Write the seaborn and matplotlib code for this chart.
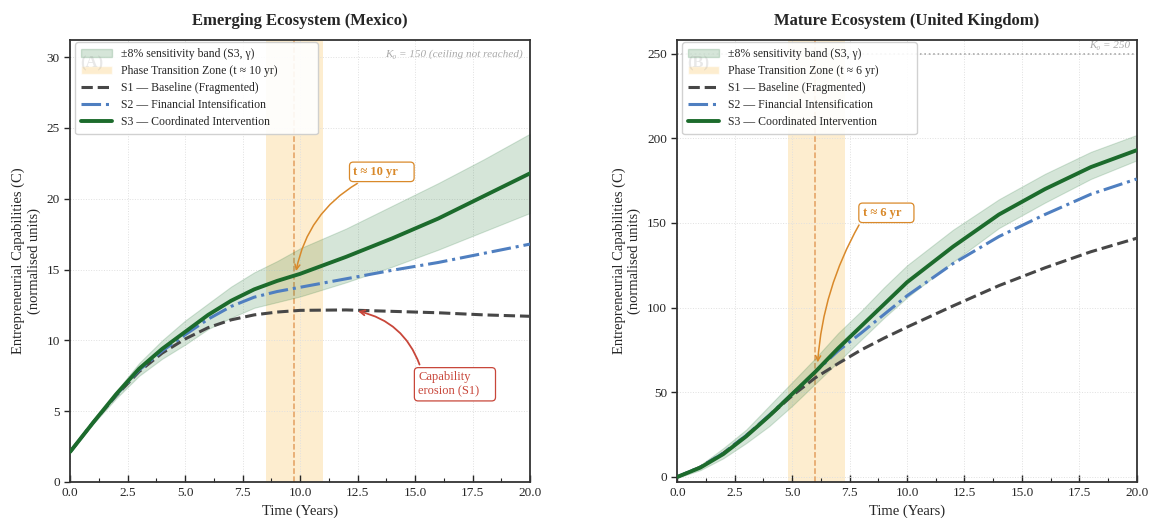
import numpy as np
import pandas as pd
import matplotlib
matplotlib.use("Agg")
import matplotlib.pyplot as plt
from matplotlib.patches import Patch
from matplotlib.lines import Line2D
import seaborn as sns

# time grid shared by both panels (years)
t = [0, 1, 2, 3, 4, 5, 6, 7, 8, 9, 10, 12, 14, 16, 18, 20]

# Mexico (emerging ecosystem)
mx_s1 = [2.13, 4.2, 6.1, 7.8, 9.1, 10.1, 10.9, 11.45, 11.8, 12.0, 12.12, 12.15, 12.05, 11.95, 11.8, 11.7]
mx_s2 = [2.13, 4.2, 6.15, 7.9, 9.25, 10.4, 11.5, 12.4, 13.05, 13.45, 13.75, 14.35, 14.95, 15.5, 16.15, 16.8]
mx_s3 = [2.13, 4.2, 6.2, 8.0, 9.4, 10.6, 11.8, 12.8, 13.6, 14.2, 14.7, 15.9, 17.2, 18.6, 20.2, 21.8]
mx_hi = [2.15, 4.3, 6.4, 8.4, 10.0, 11.4, 12.6, 13.8, 14.8, 15.6, 16.5, 17.9, 19.5, 21.1, 22.8, 24.6]
mx_lo = [2.1, 4.1, 5.9, 7.5, 8.7, 9.7, 10.8, 11.6, 12.3, 12.7, 13.1, 14.1, 15.2, 16.4, 17.7, 19.0]

# United Kingdom (mature ecosystem)
uk_s1 = [0, 5.8, 14, 24.5, 36, 48, 58.5, 67, 75, 82, 88.5, 101, 113, 123.5, 133, 141]
uk_s2 = [0, 5.8, 14, 24.5, 36.5, 49, 62, 74.5, 85, 96, 107, 126, 142, 155, 167, 176]
uk_s3 = [0, 5.5, 13.5, 24, 36, 49, 62, 76, 89, 102, 115, 136, 155, 170, 183, 193]
uk_hi = [0.5, 7, 17, 28, 42, 56, 70, 85, 98, 112, 125, 146, 164, 179, 192, 202]
uk_lo = [-0.5, 4, 11, 20, 30, 42, 55, 68, 81, 94, 106, 127, 147, 162, 176, 187]

panels = [
    dict(title="Emerging Ecosystem (Mexico)", tag="(A)", s1=mx_s1, s2=mx_s2, s3=mx_s3,
         hi=mx_hi, lo=mx_lo, zone=(8.5, 11.0), tpt=9.75, tlabel="t \u2248 10 yr",
         k0=150, k0_text="K\u2080 = 150 (ceiling not reached)", k0_y=0.98, ylim=(0, 31.2),
         yticks=[0, 5, 10, 15, 20, 25, 30], leg_w=0.527),
    dict(title="Mature Ecosystem (United Kingdom)", tag="(B)", s1=uk_s1, s2=uk_s2, s3=uk_s3,
         hi=uk_hi, lo=uk_lo, zone=(4.8, 7.3), tpt=6.0, tlabel="t \u2248 6 yr",
         k0=250, k0_text="K\u2080 = 250", k0_y=0.997, ylim=(-3, 258),
         yticks=[0, 50, 100, 150, 200, 250], leg_w=0.51),
]

sns.set_theme(style="white")
plt.rcParams["font.family"] = ["Liberation Serif", "DejaVu Serif"]

c_s1 = "#474747"
c_s2 = "#4f7fc0"
c_s3 = "#1c6b2c"
c_band = "#2e7d40"
c_zone = "#fde2b0"
c_orange = "#d9892a"
c_red = "#c8463a"

fig = plt.figure(figsize=(11.5, 5.18), dpi=100)
ax1 = fig.add_axes([0.061, 0.0695, 0.4, 0.853])
ax2 = fig.add_axes([0.589, 0.0695, 0.3995, 0.853])

for ax, p in zip([ax1, ax2], panels):
    ax.axvspan(*p["zone"], color=c_zone, alpha=0.6, lw=0, zorder=0)
    ax.axvline(p["tpt"], color="#e3a060", ls="--", lw=1.1, zorder=1)
    ax.fill_between(t, p["lo"], p["hi"], color=c_band, alpha=0.2, lw=0.8, zorder=2)
    sns.lineplot(x=t, y=p["s1"], ax=ax, color=c_s1, lw=2.2, ls="--", zorder=3)
    sns.lineplot(x=t, y=p["s2"], ax=ax, color=c_s2, lw=2.2, ls="-.", zorder=4)
    sns.lineplot(x=t, y=p["s3"], ax=ax, color=c_s3, lw=2.8, zorder=5)
    if p["k0"] < p["ylim"][1]:
        ax.axhline(p["k0"], color="#aaaaaa", ls=":", lw=1.2, zorder=1)

    ax.set_xlim(0, 20)
    ax.set_ylim(*p["ylim"])
    ax.set_xticks(np.arange(0, 20.1, 2.5))
    ax.set_xticks(np.arange(0, 20.1, 1.25), minor=True)
    ax.set_yticks(p["yticks"])
    ax.grid(True, which="major", color="#e0e0e0", ls=":", lw=0.7)
    ax.tick_params(axis="x", which="major", direction="in", length=5, width=1, labelsize=9.5, bottom=True)
    ax.tick_params(axis="x", which="minor", direction="in", length=3, width=0.8, bottom=True)
    ax.tick_params(axis="y", direction="out", length=4, width=1, labelsize=9.5, left=True)
    for sp in ax.spines.values():
        sp.set_color("#333333")
        sp.set_linewidth(1.3)

    ax.set_title(p["title"], fontsize=12, fontweight="bold", pad=11)
    ax.set_xlabel("Time (Years)", fontsize=10.5)
    ax.set_ylabel("Entrepreneurial Capabilities (C)\n(normalised units)", fontsize=10.5)

    ax.text(0.022, 0.965, p["tag"], transform=ax.transAxes, fontsize=12, fontweight="bold",
            color="#999999", alpha=0.22, va="top", ha="left", zorder=11)
    ax.text(0.985, p["k0_y"], p["k0_text"], transform=ax.transAxes, fontsize=8, style="italic",
            color="#aaaaaa", va="top", ha="right")

    handles = [
        Patch(facecolor=c_band, alpha=0.2, edgecolor=c_band, label="\u00b18% sensitivity band (S3, \u03b3)"),
        Patch(facecolor=c_zone, alpha=0.6, label=f"Phase Transition Zone ({p['tlabel']})"),
        Line2D([], [], color=c_s1, lw=2.2, ls="--", label="S1 \u2014 Baseline (Fragmented)"),
        Line2D([], [], color=c_s2, lw=2.2, ls="-.", label="S2 \u2014 Financial Intensification"),
        Line2D([], [], color=c_s3, lw=2.8, label="S3 \u2014 Coordinated Intervention"),
    ]
    leg = ax.legend(handles=handles, loc="upper left", bbox_to_anchor=(0.011, 0.995, p["leg_w"], 0),
                    mode="expand", borderaxespad=0, fontsize=8.5, frameon=True, framealpha=0.9,
                    edgecolor="#cccccc", borderpad=0.5, handlelength=2.6, labelspacing=0.42)
    leg.set_zorder(10)

# annotations
ax1.annotate("t \u2248 10 yr    ", xy=(9.8, 14.7), xytext=(13.55, 21.9), fontsize=9, fontweight="bold",
             color=c_orange, ha="center", va="center",
             bbox=dict(boxstyle="round,pad=0.3", fc="white", ec=c_orange, lw=0.9),
             arrowprops=dict(arrowstyle="->", color=c_orange, lw=1.1, relpos=(0.25, 0),
                             connectionstyle="arc3,rad=0.25"), zorder=8)
ax1.annotate("Capability\nerosion (S1)    ", xy=(12.4, 12.1), xytext=(16.73, 6.9), fontsize=9,
             color=c_red, ha="center", va="center", multialignment="left",
             bbox=dict(boxstyle="round,pad=0.3", fc="white", ec=c_red, lw=0.9),
             arrowprops=dict(arrowstyle="->", color=c_red, lw=1.3, relpos=(0.05, 1),
                             connectionstyle="arc3,rad=0.3"), zorder=8)
ax2.annotate("t \u2248 6 yr   ", xy=(6.1, 66), xytext=(9.1, 156), fontsize=9, fontweight="bold",
             color=c_orange, ha="center", va="center",
             bbox=dict(boxstyle="round,pad=0.3", fc="white", ec=c_orange, lw=0.9),
             arrowprops=dict(arrowstyle="->", color=c_orange, lw=1.1, relpos=(0.0, 0),
                             connectionstyle="arc3,rad=0.12"), zorder=8)

fig.savefig("out.png", dpi=100)
